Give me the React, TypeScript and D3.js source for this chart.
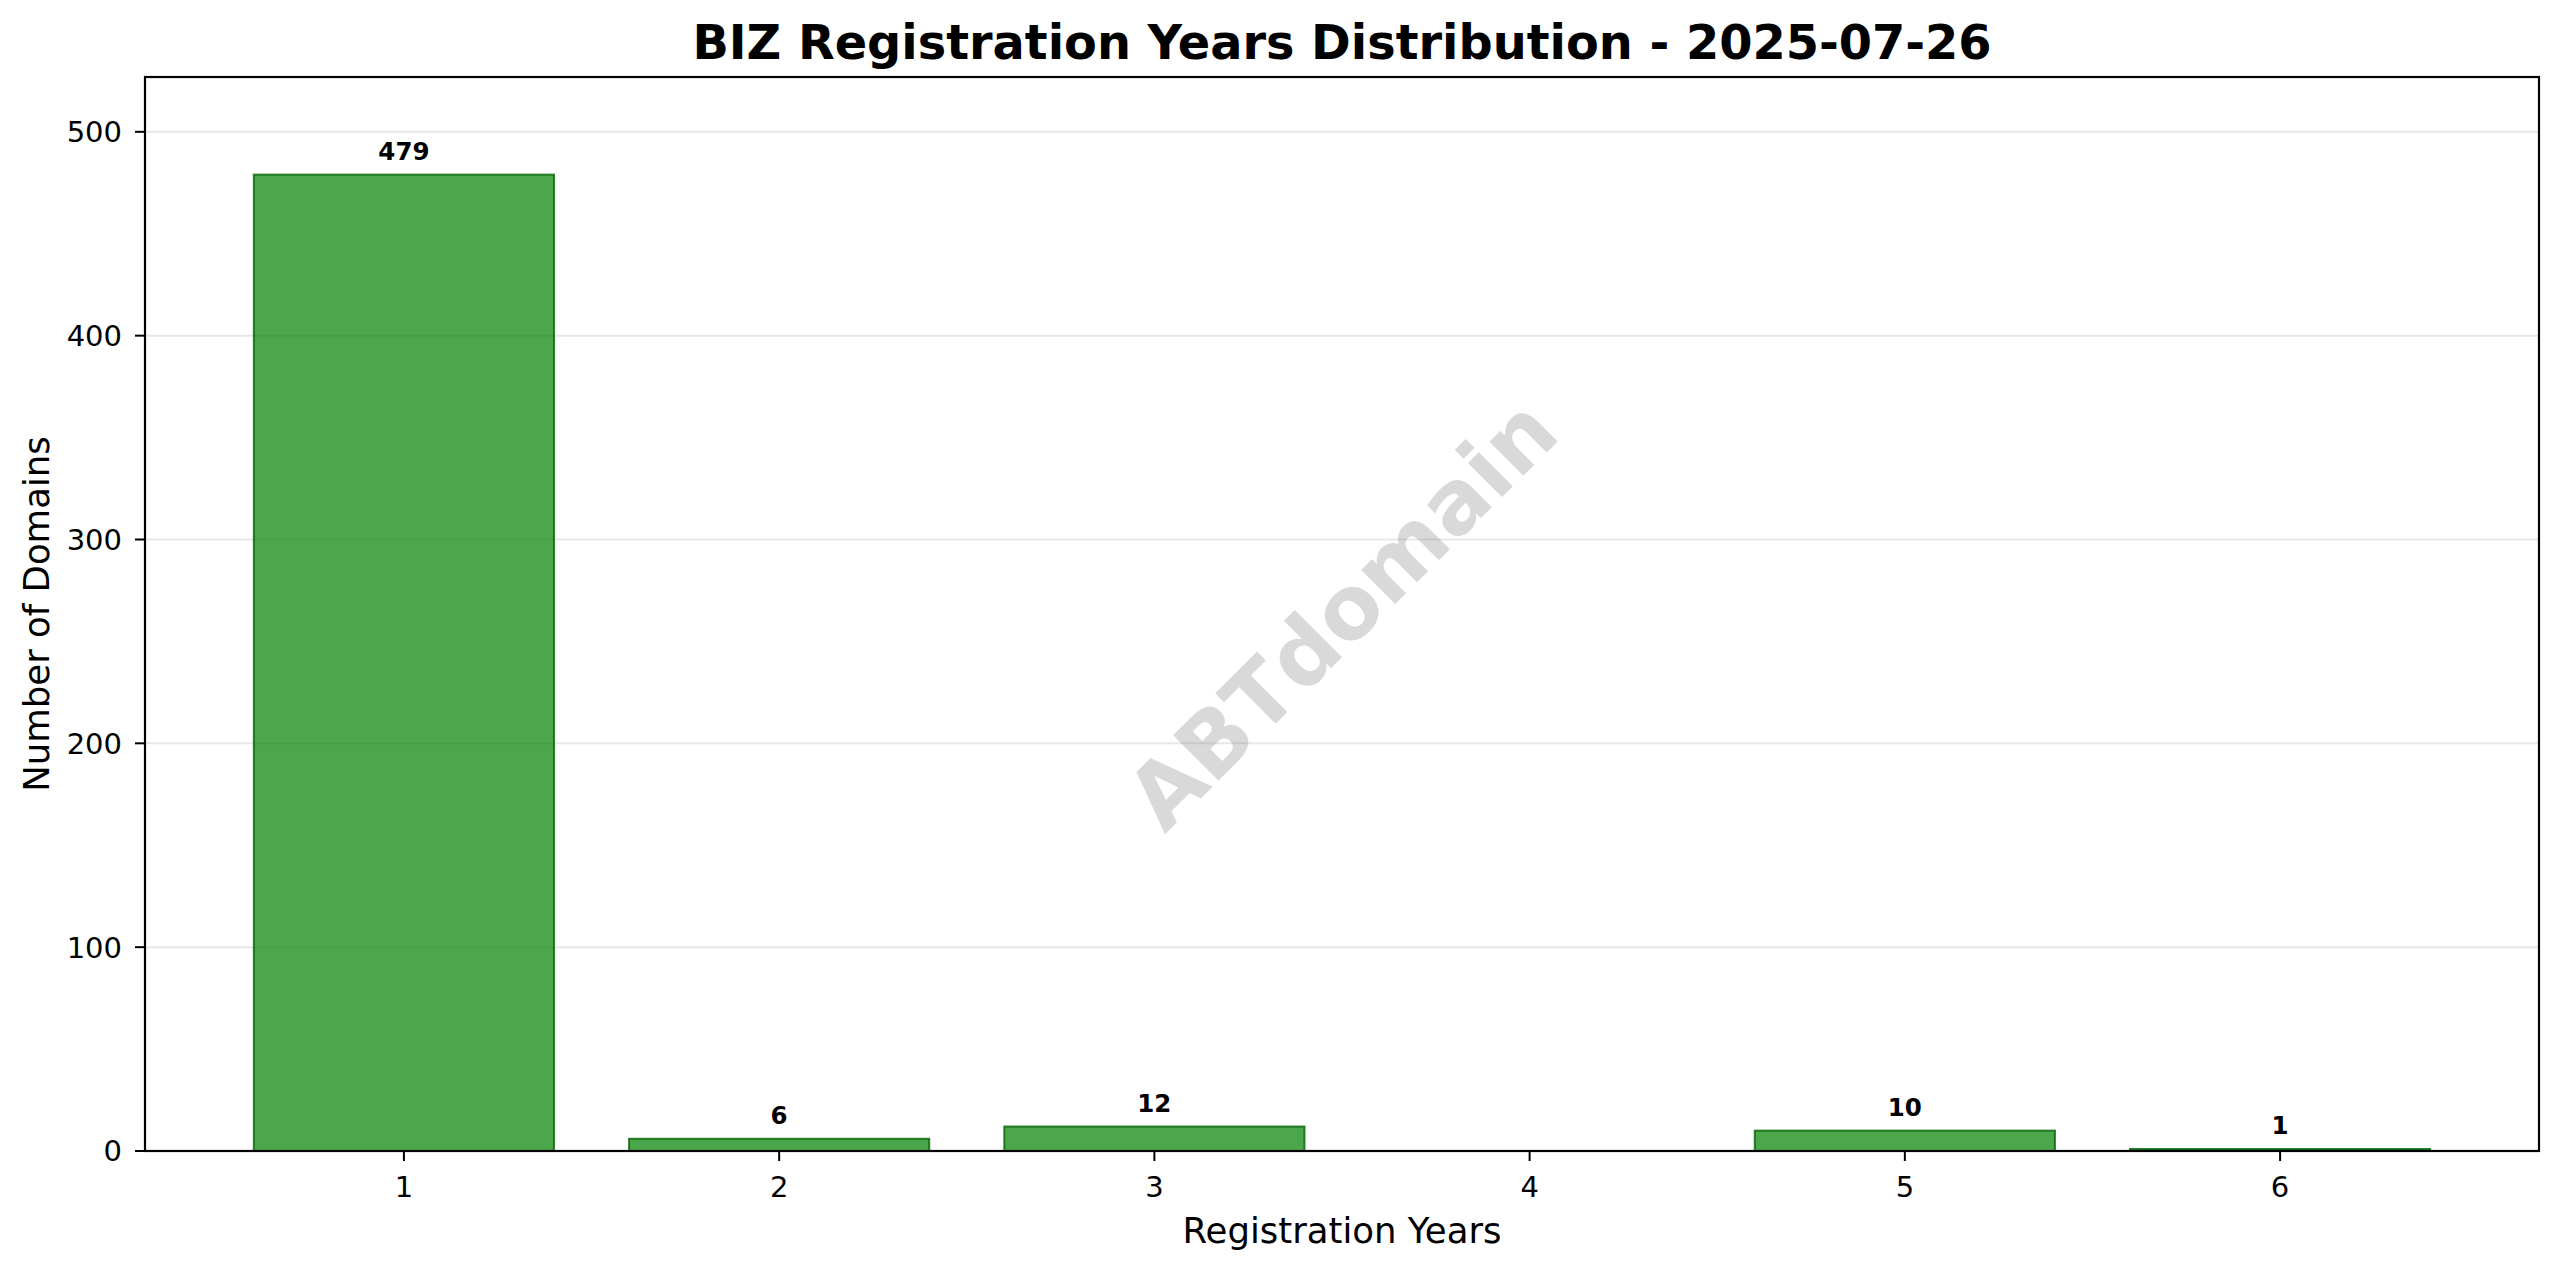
import React from "react";
import * as d3 from "d3";

const title = "BIZ Registration Years Distribution - 2025-07-26";
const xLabel = "Registration Years";
const yLabel = "Number of Domains";
const watermark = "ABTdomain";
const years = [1, 2, 3, 5, 6];
const counts = [479, 6, 12, 10, 1];
const xTicks = [1, 2, 3, 4, 5, 6];
const yTicks = [0, 100, 200, 300, 400, 500];

const W = 2560;
const H = 1271;
const M = { left: 145, right: 2539, top: 77, bottom: 1151 };
const FONT = "'DejaVu Sans', sans-serif";

export default function App() {
  const barWidth = 0.8;
  const xMin = d3.min(years)! - barWidth / 2;
  const xMax = d3.max(xTicks)! + barWidth / 2;
  const pad = (xMax - xMin) * 0.05;
  const x = d3.scaleLinear().domain([xMin - pad, xMax + pad]).range([M.left, M.right]);
  const y = d3.scaleLinear().domain([0, d3.max(counts)! * 1.1]).range([M.bottom, M.top]);
  const bw = x(barWidth) - x(0);
  const cx = (M.left + M.right) / 2;
  const cy = (M.top + M.bottom) / 2;

  return (
    <svg
      width={W}
      height={H}
      style={{ position: "absolute", left: 0, top: 0, background: "#fff" }}
      fontFamily={FONT}
    >
      <rect x={0} y={0} width={W} height={H} fill="#fff" />
      {/* grid */}
      {yTicks.map((t) => (
        <line key={"g" + t} x1={M.left} x2={M.right} y1={y(t)} y2={y(t)} stroke="#b0b0b0" strokeOpacity={0.3} strokeWidth={2} />
      ))}
      {/* watermark */}
      <text
        x={cx}
        y={cy}
        transform={`rotate(-45 ${cx} ${cy})`}
        textAnchor="middle"
        dominantBaseline="central"
        fontSize={88}
        fontWeight="bold"
        fill="gray"
        fillOpacity={0.3}
      >
        {watermark}
      </text>
      {/* bars */}
      {years.map((yr, i) => (
        <rect
          key={"b" + yr}
          x={x(yr) - bw / 2}
          y={y(counts[i])}
          width={bw}
          height={y(0) - y(counts[i])}
          fill="green"
          fillOpacity={0.7}
          stroke="darkgreen"
          strokeOpacity={0.8}
          strokeWidth={2}
        />
      ))}
      {/* value labels */}
      {years.map((yr, i) => (
        <text key={"v" + yr} x={x(yr)} y={y(counts[i]) - 15} textAnchor="middle" fontSize={24.5} fontWeight="bold" fill="#000">
          {counts[i]}
        </text>
      ))}
      {/* spines */}
      <rect x={M.left} y={M.top} width={M.right - M.left} height={M.bottom - M.top} fill="none" stroke="#000" strokeWidth={2.2} />
      {/* x ticks */}
      {xTicks.map((t) => (
        <g key={"xt" + t}>
          <line x1={x(t)} x2={x(t)} y1={M.bottom} y2={M.bottom + 10} stroke="#000" strokeWidth={2} />
          <text x={x(t)} y={M.bottom + 46} textAnchor="middle" fontSize={29} fill="#000">
            {t}
          </text>
        </g>
      ))}
      {/* y ticks */}
      {yTicks.map((t) => (
        <g key={"yt" + t}>
          <line x1={M.left - 10} x2={M.left} y1={y(t)} y2={y(t)} stroke="#000" strokeWidth={2} />
          <text x={M.left - 23} y={y(t)} dy="0.36em" textAnchor="end" fontSize={29} fill="#000">
            {t}
          </text>
        </g>
      ))}
      {/* axis labels */}
      <text x={cx} y={1243} textAnchor="middle" fontSize={35.5} fill="#000">
        {xLabel}
      </text>
      <text x={49} y={cy} transform={`rotate(-90 49 ${cy})`} textAnchor="middle" fontSize={35.5} fill="#000">
        {yLabel}
      </text>
      {/* title */}
      <text x={cx} y={59} textAnchor="middle" fontSize={47.8} fontWeight="bold" fill="#000">
        {title}
      </text>
    </svg>
  );
}
